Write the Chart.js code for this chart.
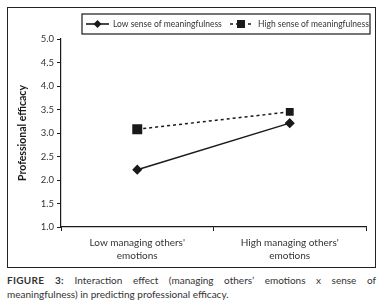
<!DOCTYPE html>
<html>
<head>
<meta charset="utf-8">
<script src="https://cdn.jsdelivr.net/npm/chart.js@4"></script>
<style>
  body { margin: 0; background: #fff; width: 385px; height: 307px; overflow: hidden; font-family: Lato, "Noto Sans", sans-serif; }
  #frame { position: absolute; left: 7px; top: 7px; width: 367px; height: 259px; border: 1.5px solid #222; }
  #wrap { position: absolute; left: 0; top: 0; width: 367px; height: 259px; }
  #caption { position: absolute; left: 7px; top: 273px; width: 369px; font-size: 10px; line-height: 14px; color: #333; text-align: justify; text-align-last: left; }
  #caption b { font-weight: 700; letter-spacing: 0.3px; }
</style>
</head>
<body>
<div id="frame"><div id="wrap"><canvas id="chart"></canvas></div></div>
<div id="caption"><b>FIGURE 3:</b> Interaction effect (managing others’ emotions x sense of meaningfulness) in predicting professional efficacy.</div>
<script>
// values
const categories = [['Low managing others\'', 'emotions'], ['High managing others\'', 'emotions']];
const seriesNames = ['Low sense of meaningfulness', 'High sense of meaningfulness'];
const lowMeaning = [2.22, 3.21];
const highMeaning = [3.08, 3.45];
const yTicks = [1.0, 1.5, 2.0, 2.5, 3.0, 3.5, 4.0, 4.5, 5.0];

const ink = '#1a1a1a';
const fontFam = 'Lato, "Noto Sans", sans-serif';

// boxed legend with line samples, drawn at the top of the canvas
const boxLegend = {
    id: 'boxLegend',
    afterDraw(chart) {
        const ctx = chart.ctx;
        ctx.save();
        ctx.strokeStyle = ink;
        ctx.lineWidth = 1.2;
        ctx.strokeRect(74, 6, 288, 20);
        ctx.font = '8.5px ' + fontFam;
        ctx.fillStyle = '#333';
        ctx.textBaseline = 'middle';
        const items = [
            { x0: 78, x1: 101, dash: [], text: 105, marker: 'diamond' },
            { x0: 222, x1: 244, dash: [3, 3], text: 250, marker: 'square' },
        ];
        items.forEach((it, i) => {
            const y = 16;
            ctx.setLineDash(it.dash);
            ctx.lineWidth = 1.6;
            ctx.beginPath();
            ctx.moveTo(it.x0, y);
            ctx.lineTo(it.x1, y);
            ctx.stroke();
            ctx.setLineDash([]);
            ctx.fillStyle = ink;
            const cx = (it.x0 + it.x1) / 2;
            if (it.marker === 'diamond') {
                ctx.beginPath();
                ctx.moveTo(cx, y - 4); ctx.lineTo(cx + 4, y);
                ctx.lineTo(cx, y + 4); ctx.lineTo(cx - 4, y);
                ctx.closePath(); ctx.fill();
            } else {
                ctx.fillRect(cx - 4, y - 4, 8, 8);
            }
            ctx.fillStyle = '#333';
            ctx.fillText(seriesNames[i], it.text, y + 0.5);
        });
        ctx.restore();
    }
};

new Chart(document.getElementById('chart'), {
    type: 'line',
    data: {
        labels: categories,
        datasets: [
            {
                label: seriesNames[0],
                data: lowMeaning,
                borderColor: ink,
                backgroundColor: ink,
                borderWidth: 1.5,
                pointStyle: 'rectRot',
                pointRadius: 4,
            },
            {
                label: seriesNames[1],
                data: highMeaning,
                borderColor: ink,
                backgroundColor: ink,
                borderWidth: 1.5,
                borderDash: [3, 3],
                pointStyle: 'rect',
                pointRadius: [6, 4.5],
            },
        ],
    },
    options: {
        responsive: true,
        maintainAspectRatio: false,
        animation: false,
        layout: { padding: { top: 31, right: 9, left: 0, bottom: 0 } },
        plugins: { legend: { display: false }, tooltip: { enabled: false } },
        scales: {
            x: {
                offset: true,
                grid: { offset: true, drawOnChartArea: false, color: ink, tickLength: 4 },
                border: { color: ink, width: 1.2 },
                ticks: { color: '#333', font: { family: fontFam, size: 10, lineHeight: 1.25 }, padding: 6, maxRotation: 0 },
                afterFit(scale) { scale.height = 40; },
            },
            y: {
                min: 1,
                max: 5,
                afterBuildTicks(scale) { scale.ticks = yTicks.map(v => ({ value: v })); },
                grid: { drawOnChartArea: false, color: ink, tickLength: 4 },
                border: { color: ink, width: 1.2 },
                ticks: { color: '#333', font: { family: fontFam, size: 9.5 }, padding: 3, callback: v => v.toFixed(1) },
                title: { display: true, text: 'Professional efficacy', color: ink, font: { family: fontFam, size: 10.5, weight: 'bold' }, padding: { top: 8, bottom: 0 } },
                afterFit(scale) { scale.width = 53; },
            },
        },
    },
    plugins: [boxLegend],
});
</script>
</body>
</html>
